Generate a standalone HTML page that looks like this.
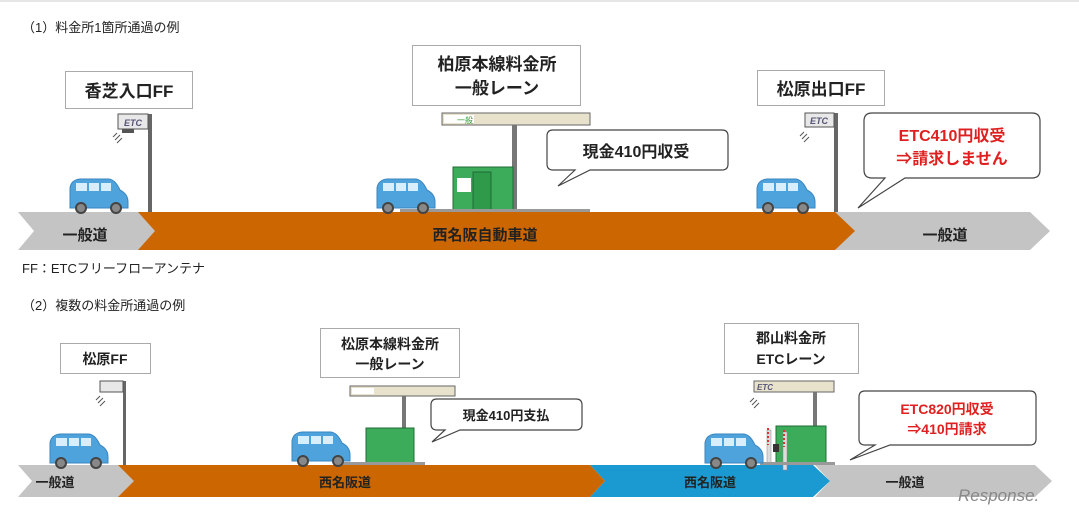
<!DOCTYPE html>
<html><head><meta charset="utf-8"><style>
body{margin:0;background:#fff;width:1079px;height:514px;overflow:hidden}
svg text{font-family:"Liberation Sans","Noto Sans CJK JP",sans-serif}
</style></head><body>
<svg width="1079" height="514" viewBox="0 0 1079 514" xmlns="http://www.w3.org/2000/svg">
<defs>
<g id="car">
<path d="M2,30 L2,12 Q3,4 12,3 L40,3 Q47,3 52,14 Q60,18 60,26 L60,32 L2,32 Z" fill="#4fa3dc" stroke="#3a86c0"/>
<rect x="8" y="7" width="11" height="8" fill="#d8eefa"/><rect x="21" y="7" width="10" height="8" fill="#d8eefa"/><rect x="33" y="7" width="10" height="8" fill="#d8eefa"/>
<circle cx="13" cy="32" r="5" fill="#888" stroke="#444" stroke-width="2"/><circle cx="48" cy="32" r="5" fill="#888" stroke="#444" stroke-width="2"/>
</g>
<g id="sig"><path d="M0,0 l4,-4 M2,3 l5,-5 M4,6 l5,-5" stroke="#555" stroke-width="1"/></g>
</defs>
<line x1="0" y1="1" x2="1079" y2="1" stroke="#ccc"/>
<text x="22" y="32" font-size="13" fill="#222">（1）料金所1箇所通過の例</text>
<text x="22" y="273" font-size="13" fill="#222">FF：ETCフリーフローアンテナ</text>
<text x="22" y="310" font-size="13" fill="#222">（2）複数の料金所通過の例</text>

<polygon points="18,212 140,212 158,231 140,250 18,250 34,231" fill="#c4c4c4"/>
<polygon points="835,212 1030,212 1050,231 1030,250 835,250 853,231" fill="#c4c4c4"/>
<polygon points="138,212 835,212 855,231 835,250 138,250 155,231" fill="#cc6600"/>
<text x="85" y="240" font-size="15" font-weight="bold" fill="#222" text-anchor="middle">一般道</text>
<text x="485" y="240" font-size="15" font-weight="bold" fill="#222" text-anchor="middle">西名阪自動車道</text>
<text x="945" y="240" font-size="15" font-weight="bold" fill="#222" text-anchor="middle">一般道</text>

<rect x="65.5" y="71.5" width="127" height="37" fill="#fff" stroke="#aaa"/>
<text x="129" y="97" font-size="17" font-weight="bold" fill="#222" text-anchor="middle">香芝入口FF</text>
<rect x="148" y="114" width="4" height="98" fill="#666"/>
<rect x="118" y="114" width="30" height="15" fill="#e8e8e8" stroke="#555"/><text x="133" y="126" font-size="9" font-style="italic" font-weight="bold" fill="#557" text-anchor="middle">ETC</text>
<rect x="122" y="129" width="12" height="4" fill="#555"/><use href="#sig" x="113" y="137"/>
<use href="#car" x="68" y="176"/>

<rect x="412.5" y="45.5" width="168" height="60" fill="#fff" stroke="#aaa"/>
<text x="497" y="70" font-size="17" font-weight="bold" fill="#222" text-anchor="middle">柏原本線料金所</text>
<text x="497" y="94" font-size="17" font-weight="bold" fill="#222" text-anchor="middle">一般レーン</text>
<rect x="442" y="113" width="148" height="12" fill="#e8e2cc" stroke="#666"/><rect x="444" y="115" width="30" height="8" fill="#fff"/><text x="457" y="123" font-size="8" fill="#393">一般</text>
<rect x="512" y="125" width="5" height="87" fill="#777"/>
<rect x="453" y="167" width="60" height="43" fill="#3cab5a" stroke="#1f6b36"/><rect x="457" y="178" width="14" height="14" fill="#fff"/><rect x="473" y="172" width="18" height="38" fill="#2e9a4a" stroke="#1f6b36"/>
<rect x="400" y="209" width="190" height="3" fill="#999"/>
<use href="#car" x="375" y="176"/>
<path d="M553,130 H722 Q728,130 728,136 V164 Q728,170 722,170 H590 L558,186 L575,170 H553 Q547,170 547,164 V136 Q547,130 553,130 Z" fill="#fff" stroke="#444" stroke-width="1.2"/>
<text x="636" y="157" font-size="16" font-weight="bold" fill="#222" text-anchor="middle">現金410円収受</text>

<rect x="757.5" y="70.5" width="127" height="35" fill="#fff" stroke="#aaa"/>
<text x="821" y="95" font-size="17" font-weight="bold" fill="#222" text-anchor="middle">松原出口FF</text>
<rect x="834" y="113" width="4" height="99" fill="#666"/>
<rect x="805" y="113" width="29" height="14" fill="#e8e8e8" stroke="#555"/><text x="819" y="124" font-size="9" font-style="italic" font-weight="bold" fill="#557" text-anchor="middle">ETC</text>
<use href="#sig" x="800" y="136"/>
<use href="#car" x="755" y="176"/>
<path d="M872,113 H1032 Q1040,113 1040,121 V170 Q1040,178 1032,178 H905 L858,208 L885,178 H872 Q864,178 864,170 V121 Q864,113 872,113 Z" fill="#fff" stroke="#444" stroke-width="1.2"/>
<text x="952" y="141" font-size="16" font-weight="bold" fill="#e02020" text-anchor="middle">ETC410円収受</text>
<text x="952" y="164" font-size="16" font-weight="bold" fill="#e02020" text-anchor="middle">⇒請求しません</text>

<polygon points="18,465 120,465 137,481 120,497 18,497 32,481" fill="#c4c4c4"/>
<polygon points="815,465 1035,465 1052,481 1035,497 815,497 830,481" fill="#c4c4c4"/>
<polygon points="590,465 813,465 830,481 813,497 590,497 605,481" fill="#1a9ad0"/>
<polygon points="118,465 590,465 605,481 590,497 118,497 134,481" fill="#cc6600"/>
<text x="55" y="487" font-size="13" font-weight="bold" fill="#222" text-anchor="middle">一般道</text>
<text x="345" y="487" font-size="13" font-weight="bold" fill="#222" text-anchor="middle">西名阪道</text>
<text x="710" y="487" font-size="13" font-weight="bold" fill="#222" text-anchor="middle">西名阪道</text>
<text x="905" y="487" font-size="13" font-weight="bold" fill="#222" text-anchor="middle">一般道</text>

<rect x="60.5" y="343.5" width="90" height="30" fill="#fff" stroke="#aaa"/>
<text x="105" y="364" font-size="14" font-weight="bold" fill="#222" text-anchor="middle">松原FF</text>
<rect x="123" y="381" width="3" height="84" fill="#666"/>
<rect x="100" y="381" width="23" height="11" fill="#e8e8e8" stroke="#555"/>
<use href="#sig" x="96" y="400"/>
<use href="#car" x="48" y="431"/>

<rect x="320.5" y="328.5" width="139" height="49" fill="#fff" stroke="#aaa"/>
<text x="390" y="349" font-size="14" font-weight="bold" fill="#222" text-anchor="middle">松原本線料金所</text>
<text x="390" y="369" font-size="14" font-weight="bold" fill="#222" text-anchor="middle">一般レーン</text>
<rect x="350" y="386" width="105" height="10" fill="#e8e2cc" stroke="#666"/><rect x="352" y="388" width="22" height="6" fill="#fff"/>
<rect x="402" y="396" width="4" height="69" fill="#777"/>
<rect x="366" y="428" width="48" height="35" fill="#3cab5a" stroke="#1f6b36"/>
<rect x="335" y="462" width="90" height="3" fill="#999"/>
<use href="#car" x="290" y="429"/>
<path d="M437,399 H576 Q582,399 582,405 V424 Q582,430 576,430 H460 L432,442 L445,430 H437 Q431,430 431,424 V405 Q431,399 437,399 Z" fill="#fff" stroke="#444" stroke-width="1.2"/>
<text x="506" y="420" font-size="13" font-weight="bold" fill="#222" text-anchor="middle">現金410円支払</text>

<rect x="724.5" y="323.5" width="134" height="50" fill="#fff" stroke="#aaa"/>
<text x="791" y="343" font-size="14" font-weight="bold" fill="#222" text-anchor="middle">郡山料金所</text>
<text x="791" y="364" font-size="14" font-weight="bold" fill="#222" text-anchor="middle">ETCレーン</text>
<rect x="754" y="381" width="80" height="11" fill="#e8e2cc" stroke="#666"/><text x="757" y="390" font-size="8" font-style="italic" font-weight="bold" fill="#557">ETC</text>
<rect x="813" y="392" width="4" height="71" fill="#777"/>
<use href="#sig" x="750" y="402"/>
<rect x="776" y="426" width="50" height="37" fill="#3cab5a" stroke="#1f6b36"/>
<rect x="767" y="430" width="4" height="33" fill="#ddd" stroke="#888" stroke-width=".5"/><rect x="783" y="432" width="4" height="38" fill="#ddd" stroke="#888" stroke-width=".5"/>
<line x1="768" y1="428" x2="768" y2="445" stroke="#d33" stroke-width="2" stroke-dasharray="2,2"/>
<line x1="784" y1="430" x2="784" y2="447" stroke="#d33" stroke-width="2" stroke-dasharray="2,2"/>
<rect x="773" y="444" width="6" height="8" fill="#333"/>
<rect x="760" y="462" width="75" height="3" fill="#999"/>
<use href="#car" x="703" y="431"/>
<path d="M865,391 H1030 Q1036,391 1036,397 V439 Q1036,445 1030,445 H890 L850,460 L875,445 H865 Q859,445 859,439 V397 Q859,391 865,391 Z" fill="#fff" stroke="#444" stroke-width="1.2"/>
<text x="947" y="414" font-size="14" font-weight="bold" fill="#e02020" text-anchor="middle">ETC820円収受</text>
<text x="947" y="434" font-size="14" font-weight="bold" fill="#e02020" text-anchor="middle">⇒410円請求</text>

<text x="958" y="501" font-size="17" fill="#888" font-style="italic">Response.</text>
</svg>
</body></html>
